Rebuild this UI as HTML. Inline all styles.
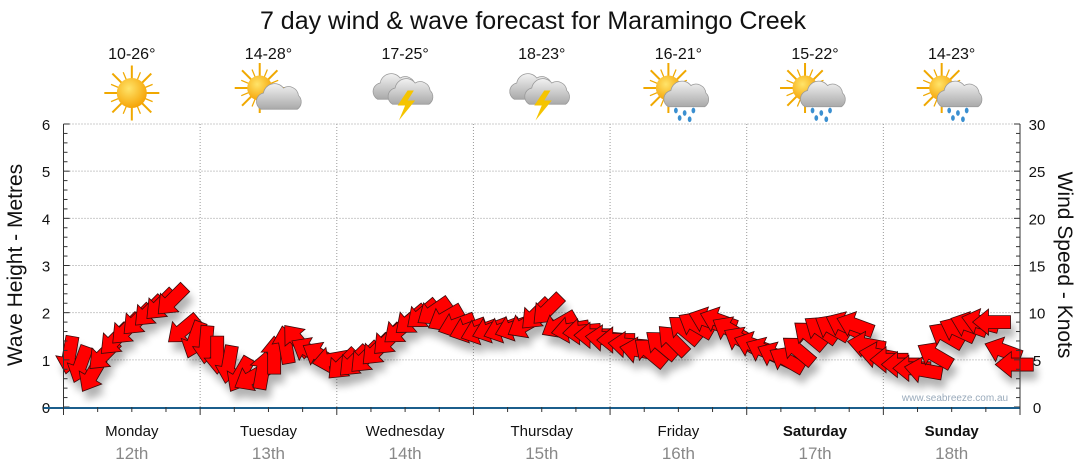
<!DOCTYPE html>
<html><head><meta charset="utf-8"><style>
body{margin:0;background:#fff;font-family:"Liberation Sans","DejaVu Sans",sans-serif}
svg{display:block}
</style></head><body>
<svg id="chart" width="1080" height="475" viewBox="0 0 1080 475" xmlns="http://www.w3.org/2000/svg">
<defs>
<radialGradient id="sunG" cx="40%" cy="35%" r="70%"><stop offset="0" stop-color="#ffe46a"/><stop offset="1" stop-color="#f5a000"/></radialGradient>
<linearGradient id="cloudG" x1="0" y1="0" x2="0" y2="1"><stop offset="0" stop-color="#f2f2f2"/><stop offset="1" stop-color="#a9a9a9"/></linearGradient>
<filter id="sh" x="-50%" y="-50%" width="200%" height="200%"><feGaussianBlur stdDeviation="4"/></filter>
</defs>
<text x="533" y="29" font-size="25" text-anchor="middle" fill="#111">7 day wind &amp; wave forecast for Maramingo Creek</text>
<g id="grid"></g>
<g id="icons"></g>
<g id="shadows" filter="url(#sh)" opacity="0.3"></g>
<g id="arrows"></g>
<g id="axes"></g>
<text x="955" y="401" font-size="10" fill="#9ab" text-anchor="middle">www.seabreeze.com.au</text>
<text transform="translate(22,265) rotate(-90)" font-size="21" text-anchor="middle" fill="#111">Wave Height - Metres</text>
<text transform="translate(1058,265) rotate(90)" font-size="21" text-anchor="middle" fill="#111">Wind Speed - Knots</text>
</svg>
<script>
const days=["Monday","Tuesday","Wednesday","Thursday","Friday","Saturday","Sunday"];
const dates=["12th","13th","14th","15th","16th","17th","18th"];
const temps=["10-26°","14-28°","17-25°","18-23°","16-21°","15-22°","14-23°"];
const icons=["sun","suncloud","storm","storm","sunrain","sunrain","sunrain"];
const waveTicks=[0,1,2,3,4,5,6];
const windTicks=[0,5,10,15,20,25,30];
const windSpeed=[5.5,4.5,3.4,5.5,7.1,8.2,9.2,10.1,10.8,11.3,8.2,7.1,
 6.6,5.5,4.5,3.4,3.1,3.9,5.5,6.6,7.1,6.0,5.5,5.0,
 4.5,4.8,5.2,6.0,7.1,8.2,9.2,9.8,10.1,9.4,8.7,8.2,
 8.0,8.2,8.2,8.4,8.7,9.8,10.3,8.7,8.2,8.0,7.6,7.3,
 7.1,6.6,6.0,5.8,6.6,7.1,8.2,8.7,9.2,9.2,8.2,7.1,
 6.6,6.0,5.5,5.0,6.0,7.6,8.2,8.4,8.7,8.7,6.6,5.5,
 5.0,4.5,4.1,3.9,5.5,7.6,8.2,8.7,9.0,9.0,6.0,4.5];
const windDir=[100,110,120,135,135,135,135,135,135,135,140,110,
 95,90,100,120,150,-80,-90,-100,-130,-150,-150,170,
 135,135,135,135,135,140,140,140,145,150,160,160,
 160,160,160,160,150,135,135,150,170,175,180,185,
 180,185,190,-140,-140,-135,-140,-150,-160,-160,-150,-150,
 -160,-155,-155,-150,-140,-140,-145,-150,-155,-160,-170,-170,
 180,180,180,-170,-150,-150,-155,-160,-165,180,-160,180];
const NS="http://www.w3.org/2000/svg";
const X0=63.5,X1=1020,Y0=407,Y1=124,DW=(X1-X0)/7,PER=12;
const xDay=i=>X0+i*DW;
const xPt=i=>X0+(i+0.5)*DW/PER;
const yWave=v=>Y0-(v/6)*(Y0-Y1);
const yWind=v=>Y0-(v/30)*(Y0-Y1);
function mk(tag,attrs,parent){const e=document.createElementNS(NS,tag);for(const k in attrs)e.setAttribute(k,attrs[k]);parent.appendChild(e);return e;}
const grid=document.getElementById('grid'),axes=document.getElementById('axes'),ic=document.getElementById('icons');
waveTicks.forEach(t=>{if(t>0){const l=mk('line',{x1:X0,x2:X1,y1:yWave(t),y2:yWave(t),stroke:'#999','stroke-dasharray':'1,2'},grid);

}
const tx=mk('text',{x:46,y:yWave(t)+6,'font-size':15,'text-anchor':'middle',fill:'#111'},axes);tx.textContent=t;

});
windTicks.forEach(t=>{const tx=mk('text',{x:1037,y:yWind(t)+6,'font-size':15,'text-anchor':'middle',fill:'#111'},axes);tx.textContent=t;

});
for(let m=0;m<=30;m++){const y=Y0-m*(Y0-Y1)/30;mk('line',{x1:X0,x2:X0+(m%5==0?6:4),y1:y,y2:y,stroke:'#333'},axes);mk('line',{x1:X1,x2:X1-(m%5==0?6:4),y1:y,y2:y,stroke:'#333'},axes);}
mk('line',{x1:X0,x2:X0,y1:Y1,y2:Y0,stroke:'#333'},axes);
mk('line',{x1:X1,x2:X1,y1:Y1,y2:Y0,stroke:'#333'},axes);
mk('line',{x1:X0-20,x2:X1,y1:Y0+1,y2:Y0+1,stroke:'#1b5e8c','stroke-width':2},axes);
for(let q=0;q<=28;q++){const x=X0+q*DW/4;mk('line',{x1:x,x2:x,y1:Y0,y2:Y0+(q%4==0?8:5),stroke:'#333'},axes);}
days.forEach((d,i)=>{const cx=xDay(i)+DW/2;
if(i>0){const l=mk('line',{x1:xDay(i),x2:xDay(i),y1:Y1,y2:Y0,stroke:'#999','stroke-dasharray':'1,2'},grid);

}
const t=mk('text',{x:cx,y:436,'font-size':15,'text-anchor':'middle',fill:'#111','font-weight':i>=5?'bold':'normal'},axes);t.textContent=d;


const t2=mk('text',{x:cx,y:459,'font-size':17,'text-anchor':'middle',fill:'#888'},axes);t2.textContent=dates[i];


const t3=mk('text',{x:cx,y:59,'font-size':16,'text-anchor':'middle',fill:'#111'},ic);t3.textContent=temps[i];


const g=mk('g',{transform:`translate(${cx},93) scale(1.25)`},ic);


const k=icons[i];
const sun=(dx,dy,r)=>{for(let a=0;a<16;a++){const an=a*Math.PI/8,L=a%2?r+6:r+10;mk('line',{x1:dx,y1:dy,x2:dx+Math.cos(an)*L,y2:dy+Math.sin(an)*L,stroke:'#f0a800','stroke-width':a%2?1:1.6},g);}mk('circle',{cx:dx,cy:dy,r:r,fill:'url(#sunG)'},g);};
const cloud=(dx,dy,s)=>{mk('path',{d:`M${dx-14*s},${dy+9*s} a7 7 0 0 1 2,-13 a9 9 0 0 1 16,-4 a8 8 0 0 1 12,6 a7 7 0 0 1 -1,11 z`,fill:'url(#cloudG)',stroke:'#999','stroke-width':0.6},g);};
if(k=='sun')sun(0,0,12);
if(k=='suncloud'){sun(-7,-4,10);cloud(8,4,1);}
if(k=='storm'){cloud(-8,-4,1);cloud(4,0,1);mk('path',{d:'M2,-2 L-6,10 L0,10 L-5,22 L8,6 L2,6 L7,-2z',fill:'#f5c400'},g);}
if(k=='sunrain'){sun(-8,-4,10);cloud(6,2,1);[[-2,14],[5,16],[12,14],[1,20],[9,21]].forEach(p=>mk('ellipse',{cx:p[0],cy:p[1],rx:1.5,ry:2.3,fill:'#3a8fd0'},g));}
});
const sh=document.getElementById('shadows'),ar=document.getElementById('arrows');
const shape='M19,0 L3,-13 L3,-6.5 L-19,-6.5 L-19,6.5 L3,6.5 L3,13 Z';
windSpeed.forEach((v,i)=>{const x=xPt(i),y=yWind(v);
mk('path',{d:shape,fill:'#000',transform:`translate(${x+4},${y+9}) rotate(${windDir[i]})`},sh);
const p=mk('path',{d:shape,fill:'#ff0000',stroke:'#3a0a0a','stroke-width':0.8,transform:`translate(${x},${y}) rotate(${windDir[i]})`},ar);

});
</script>
</body></html>
